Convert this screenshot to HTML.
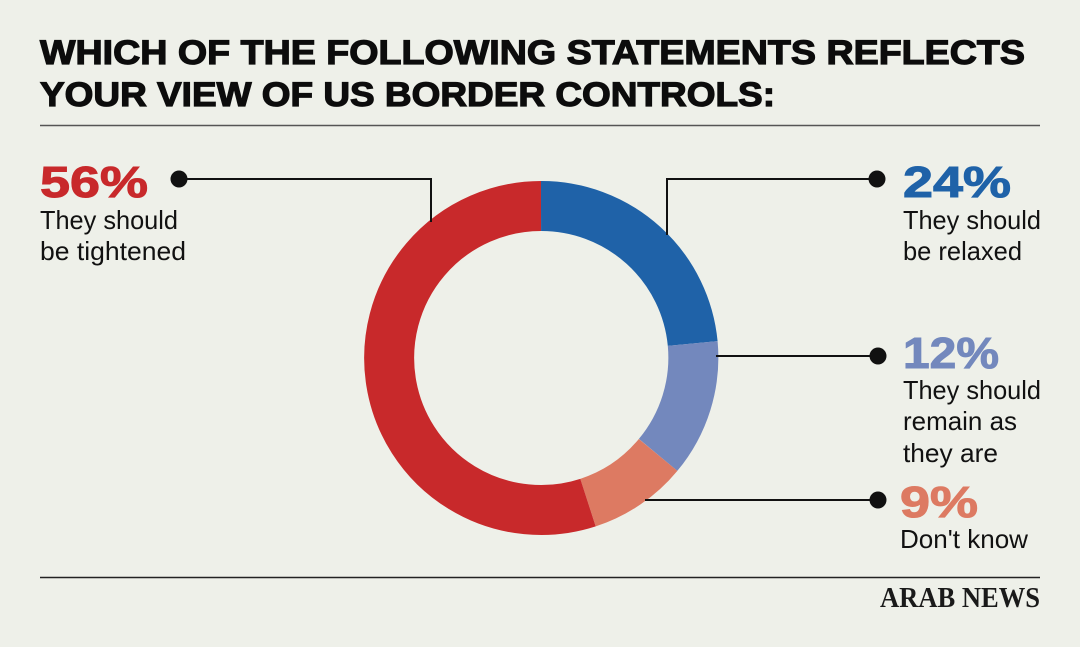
<!DOCTYPE html>
<html><head><meta charset="utf-8"><style>
html,body{margin:0;padding:0;background:#eef0e9;}
svg{display:block}
</style></head><body>
<svg width="1080" height="647" viewBox="0 0 1080 647" xmlns="http://www.w3.org/2000/svg">
<rect width="1080" height="647" fill="#eef0e9"/>
<g font-family="Liberation Sans, sans-serif" font-weight="bold" fill="#0c0c0c" stroke="#0c0c0c" stroke-width="1.2" font-size="34">
<text x="40" y="64" textLength="985" lengthAdjust="spacingAndGlyphs">WHICH OF THE FOLLOWING STATEMENTS REFLECTS</text>
<text x="40" y="106" textLength="735" lengthAdjust="spacingAndGlyphs">YOUR VIEW OF US BORDER CONTROLS:</text>
</g>
<line x1="40" y1="125.5" x2="1040" y2="125.5" stroke="#555" stroke-width="1.5"/>
<line x1="40" y1="577.5" x2="1040" y2="577.5" stroke="#222" stroke-width="1.5"/>
<g fill="none" stroke-width="50">
<path d="M541 206 A152 152 0 0 1 692.7 343.5" stroke="#1f62a8"/>
<path d="M692.7 343.5 A152 152 0 0 1 658.1 454.9" stroke="#7388bd"/>
<path d="M658.1 454.9 A152 152 0 0 1 588.0 502.6" stroke="#dd7a62"/>
<path d="M588.0 502.6 A152 152 0 1 1 541 206" stroke="#c8292b"/>
</g>
<g stroke="#111" stroke-width="2" fill="none">
<polyline points="179,179 431,179 431,222"/>
<polyline points="877,179 667,179 667,235"/>
<line x1="716" y1="356" x2="878" y2="356"/>
<line x1="645" y1="500" x2="878" y2="500"/>
</g>
<g fill="#111">
<circle cx="179" cy="179" r="8.5"/>
<circle cx="877" cy="179" r="8.5"/>
<circle cx="878" cy="356" r="8.5"/>
<circle cx="878" cy="500" r="8.5"/>
</g>
<g font-family="Liberation Sans, sans-serif" font-weight="bold" font-size="44" stroke-width="1">
<text x="40" y="197" fill="#c8292b" stroke="#c8292b" textLength="108" lengthAdjust="spacingAndGlyphs">56%</text>
<text x="903" y="197" fill="#1f62a8" stroke="#1f62a8" textLength="108" lengthAdjust="spacingAndGlyphs">24%</text>
<text x="903" y="368" fill="#7388bd" stroke="#7388bd" textLength="96" lengthAdjust="spacingAndGlyphs">12%</text>
<text x="900" y="517" fill="#dd7a62" stroke="#dd7a62" textLength="78" lengthAdjust="spacingAndGlyphs">9%</text>
</g>
<g font-family="Liberation Sans, sans-serif" font-size="26" fill="#111">
<text x="40" y="229" textLength="138" lengthAdjust="spacingAndGlyphs">They should</text>
<text x="40" y="260" textLength="146" lengthAdjust="spacingAndGlyphs">be tightened</text>
<text x="903" y="229" textLength="138" lengthAdjust="spacingAndGlyphs">They should</text>
<text x="903" y="260" textLength="119" lengthAdjust="spacingAndGlyphs">be relaxed</text>
<text x="903" y="399" textLength="138" lengthAdjust="spacingAndGlyphs">They should</text>
<text x="903" y="430" textLength="114" lengthAdjust="spacingAndGlyphs">remain as</text>
<text x="903" y="462" textLength="95" lengthAdjust="spacingAndGlyphs">they are</text>
<text x="900" y="548" textLength="128" lengthAdjust="spacingAndGlyphs">Don't know</text>
</g>
<text x="880" y="607" font-family="Liberation Serif, serif" font-weight="bold" font-size="28" fill="#1a1a1a" textLength="160" lengthAdjust="spacingAndGlyphs">ARAB NEWS</text>
</svg>
</body></html>
